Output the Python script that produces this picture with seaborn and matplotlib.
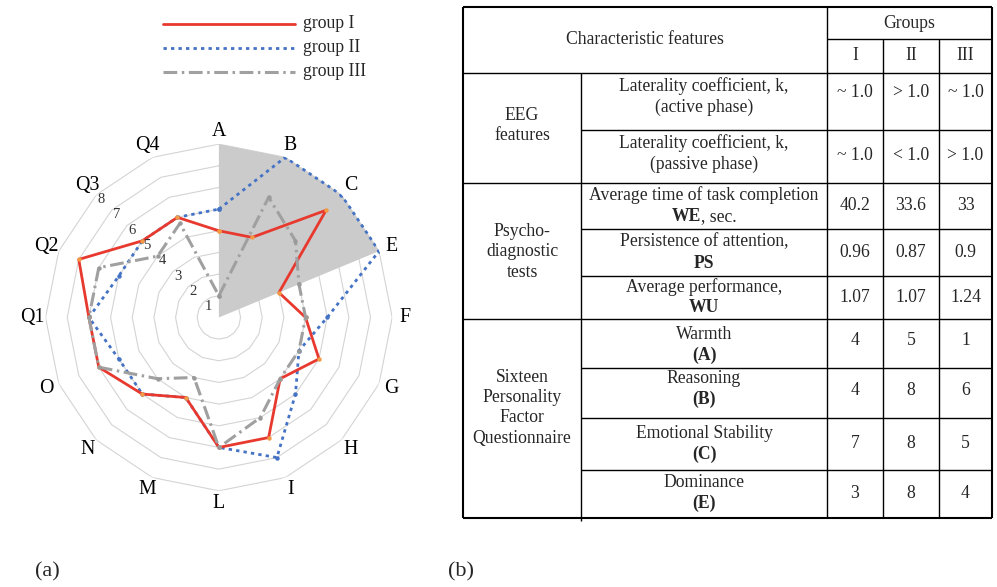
#!/usr/bin/env python3
# radar of 16PF profiles + summary table

import numpy as np
import pandas as pd
import matplotlib
matplotlib.use('Agg')
import matplotlib.pyplot as plt
import seaborn as sns

# --- radar data (sten scores per 16PF factor) ---
factors = ['A', 'B', 'C', 'E', 'F', 'G', 'H', 'I', 'L', 'M', 'N', 'O', 'Q1', 'Q2', 'Q3', 'Q4']
group_1 = [4, 4, 7, 3, 4, 5, 4, 6, 6, 4, 5, 6, 6, 7, 5, 5]
group_2 = [5, 8, 8, 8, 5, 4, 5, 7, 6, 4, 5, 5, 6, 5, 5, 5]
group_3 = [1, 6, 5, 4, 4, 4, 4, 5, 6, 3, 4, 6, 6, 6, 4, 4.7]
group_names = ['group I', 'group II', 'group III']
shaded_factors = ['A', 'B', 'C', 'E']
shaded_value = 8
ring_values = [1, 2, 3, 4, 5, 6, 7, 8]

# --- table data ---
col_header = 'Characteristic features'
groups_header = 'Groups'
group_cols = ['I', 'II', 'III']
sections = ['EEG\nfeatures', 'Psycho-\ndiagnostic\ntests', 'Sixteen\nPersonality\nFactor\nQuestionnaire']
section_rows = [(0, 2), (2, 5), (5, 9)]
features = [
    [[('Laterality coefficient, k,', 'normal')], [('(active phase)', 'normal')]],
    [[('Laterality coefficient, k,', 'normal')], [('(passive phase)', 'normal')]],
    [[('Average time of task completion', 'normal')], [('WE', 'bold'), (', sec.', 'normal')]],
    [[('Persistence of attention,', 'normal')], [('PS', 'bold')]],
    [[('Average performance,', 'normal')], [('WU', 'bold')]],
    [[('Warmth', 'normal')], [('(A)', 'bold')]],
    [[('Reasoning', 'normal')], [('(B)', 'bold')]],
    [[('Emotional Stability', 'normal')], [('(C)', 'bold')]],
    [[('Dominance', 'normal')], [('(E)', 'bold')]],
]
tab_group_1 = ['~ 1.0', '~ 1.0', '40.2', '0.96', '1.07', '4', '4', '7', '3']
tab_group_2 = ['> 1.0', '< 1.0', '33.6', '0.87', '1.07', '5', '8', '8', '8']
tab_group_3 = ['~ 1.0', '> 1.0', '33', '0.9', '1.24', '1', '6', '5', '4']

# series styles
styles = {
    'group I': dict(color='#e8392f', lw=2.0, linestyle='-', zorder=4),
    'group II': dict(color='#4472c4', lw=2.0, linestyle=(0, (1.2, 1.5)), zorder=3),
    'group III': dict(color='#a0a0a0', lw=2.2, linestyle=(0, (4.5, 1.5, 0.8, 1.5)), zorder=5),
}
marker_colors = {'group I': '#f39a45', 'group II': '#4472c4', 'group III': '#9a9a9a'}

sns.set_theme(style='white')
plt.rcParams['font.family'] = ['Liberation Serif', 'DejaVu Serif']
FS = 12.7

fig = plt.figure(figsize=(9.97, 5.87), dpi=100)

# overlay in pixel coordinates for legend / table / captions
ov = fig.add_axes([0, 0, 1, 1])
ov.set_xlim(0, 997)
ov.set_ylim(587, 0)
ov.axis('off')

# ---------------- radar ----------------
ax = fig.add_axes([0.0457, 0.1639, 0.3477, 0.5906], projection='polar')
ax.set_theta_offset(np.pi / 2)
ax.set_theta_direction(-1)
ax.patch.set_alpha(0)

n = len(factors)
theta = np.arange(n) * 2 * np.pi / n
closed = np.append(theta, 2 * np.pi)

for k in ring_values:
    ax.plot(closed, [k] * (n + 1), color='#d4d4d4', lw=0.8, zorder=1)

idx = [factors.index(f) for f in shaded_factors]
ax.fill(np.r_[0, theta[idx]], np.r_[0, [shaded_value] * len(idx)],
        color='#cbcbcb', lw=0, zorder=2)

for name, vals in zip(group_names, [group_1, group_2, group_3]):
    df = pd.DataFrame({'theta': closed, 'score': list(vals) + [vals[0]]})
    sns.lineplot(data=df, x='theta', y='score', ax=ax, sort=False, estimator=None,
                 marker='o', markersize=3.2, markerfacecolor=marker_colors[name],
                 markeredgewidth=0, **styles[name])

q3 = theta[factors.index('Q3')]
for k in ring_values:
    ax.text(q3, k - 0.3, str(k), ha='center', va='center', fontsize=10.5,
            color='#333333', zorder=6)

for t, f in zip(theta, factors):
    ax.text(t, 8.6, f, ha='center', va='center', fontsize=14.3, color='black')

ax.set_ylim(0, 8)
ax.set_xticks([])
ax.set_yticks([])
ax.grid(False)
ax.spines['polar'].set_visible(False)
ax.set_xlabel('')
ax.set_ylabel('')

# legend
for i, name in enumerate(group_names):
    y = 24 + 24 * i
    st = styles[name]
    ov.plot([163, 295], [y, y], color=st['color'], lw=st['lw'], linestyle=st['linestyle'])
    ov.text(303, y, name, fontsize=FS, ha='left', va='center')

# ---------------- table ----------------
xL, x1, x2, x3, x4, xR = 463, 581, 827, 883, 939, 992
yT, yG, yH = 7, 39.3, 72.7
row_y = [72.7, 130, 182.7, 229.3, 275.7, 319.3, 368.3, 418.3, 470, 518]

def hline(y, xa, xb, lw=1.0):
    ov.plot([xa, xb], [y, y], color='black', lw=lw, solid_capstyle='butt')

def vline(x, ya, yb, lw=1.0):
    ov.plot([x, x], [ya, yb], color='black', lw=lw, solid_capstyle='butt')

# outer frame
hline(yT, xL, xR, 1.5)
hline(row_y[-1], xL, xR, 1.5)
vline(xL, yT, row_y[-1], 1.5)
vline(xR, yT, row_y[-1], 1.5)
# header
vline(x2, yT, row_y[-1])
hline(yG, x2, xR)
vline(x3, yG, row_y[-1])
vline(x4, yG, row_y[-1])
hline(yH, xL, xR)
vline(x1, yH, row_y[-1] + 3)
# row separators
starts = [s for s, e in section_rows]
for i, y in enumerate(row_y[1:-1], start=1):
    if i in starts:
        hline(y, xL, xR)
    else:
        hline(y, x1, xR)

ov.text((xL + x2) / 2, (yT + yH) / 2, col_header, fontsize=FS, ha='center', va='center')
ov.text((x2 + xR) / 2, (yT + yG) / 2, groups_header, fontsize=FS, ha='center', va='center')
col_x = [(x2 + x3) / 2, (x3 + x4) / 2, (x4 + xR) / 2]
for cx, g in zip(col_x, group_cols):
    ov.text(cx, (yG + yH) / 2, g, fontsize=FS, ha='center', va='center')

sec_dy = [-2, 1, -11]
for (s, e), lab, dy in zip(section_rows, sections, sec_dy):
    ov.text((xL + x1) / 2, (row_y[s] + row_y[e]) / 2 + dy, lab, fontsize=FS,
            ha='center', va='center', linespacing=1.25)

renderer = fig.canvas.get_renderer()

def draw_parts(xc, y, parts):
    texts = [ov.text(0, y, s, fontsize=FS, fontweight=w, ha='left', va='center')
             for s, w in parts]
    widths = [t.get_window_extent(renderer).width for t in texts]
    x = xc - sum(widths) / 2
    for t, w in zip(texts, widths):
        t.set_x(x)
        x += w

text_dy = [-5, -3, 0, 0, 0, 1, -4, 0, -1]
num_dy = [-9, -1, 0, 0, 0, -3, -3, -1, -1]
for r, lines in enumerate(features):
    yc = (row_y[r] + row_y[r + 1]) / 2
    for j, parts in enumerate(lines):
        draw_parts((x1 + x2) / 2, yc + text_dy[r] + (j - 0.5) * 21, parts)
    for cx, col in zip(col_x, [tab_group_1, tab_group_2, tab_group_3]):
        ov.text(cx, yc + num_dy[r], col[r], fontsize=FS, ha='center', va='center')

# panel captions
ov.text(47, 572, '(a)', fontsize=16, ha='center', va='center')
ov.text(461, 572, '(b)', fontsize=16, ha='center', va='center')

fig.savefig('out.png', dpi=100)
plt.close(fig)
